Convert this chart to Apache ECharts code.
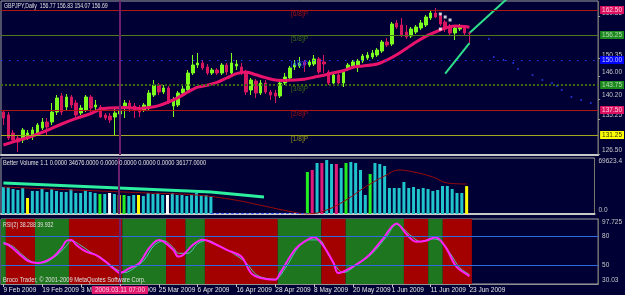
<!DOCTYPE html>
<html>
<head>
<meta charset="utf-8">
<script src="https://cdn.jsdelivr.net/npm/echarts@6/dist/echarts.min.js"></script>
<style>
  html, body { margin: 0; padding: 0; background: #000035; }
  #chart { width: 625px; height: 295px; }
</style>
</head>
<body>
<div id="chart"></div>
<script>
// slots on the time axis (97 daily bars + empty space on the right)
const SLOTS = 123;

const dateTicks = [
  [0, "9 Feb 2009"], [8, "19 Feb 2009"], [16, "3 Mar 2009"], [24, "13 Mar 2009"],
  [32, "25 Mar 2009"], [40, "6 Apr 2009"], [48, "16 Apr 2009"], [56, "28 Apr 2009"],
  [64, "8 May 2009"], [72, "20 May 2009"], [80, "1 Jun 2009"], [88, "11 Jun 2009"],
  [96, "23 Jun 2009"],
];

// [open, close, low, high]
const ohlc = [
  [137.0,135.5,133.75,137.5],[136.25,130.5,130.0,137.0],[131.75,130.0,129.25,132.5],[130.5,129.5,127.0,131.25],
  [130.0,132.5,129.25,133.0],[130.75,131.75,130.0,132.5],[131.25,132.5,130.0,133.25],[131.75,133.75,131.25,134.25],
  [133.0,134.5,132.5,135.5],[134.5,133.25,131.25,135.5],[134.5,137.0,133.75,139.25],[137.0,140.5,136.25,141.25],
  [141.0,137.0,136.25,141.75],[138.25,140.75,137.5,141.5],[140.75,138.75,138.0,141.25],[139.25,136.25,135.75,140.0],
  [136.75,138.0,136.25,138.75],[137.5,140.75,137.0,141.25],[140.75,138.0,136.75,141.25],[138.25,138.75,136.75,140.0],
  [138.25,135.75,135.5,138.75],[136.25,135.5,135.0,136.75],[136.0,135.0,134.25,136.75],[135.75,136.75,131.25,138.0],
  [136.5,137.5,136.0,138.75],[138.0,139.25,135.5,140.0],[139.25,138.0,137.0,140.0],[138.5,137.5,135.5,139.25],
  [138.0,137.0,135.75,138.75],[137.5,138.75,137.0,139.25],[138.25,141.75,137.5,142.5],[141.25,143.75,140.75,145.0],
  [143.75,142.0,141.25,144.25],[142.0,143.0,141.5,143.75],[143.0,139.5,139.0,143.5],[138.5,140.0,135.75,140.75],
  [138.75,141.75,138.25,142.25],[141.75,142.75,141.25,143.5],[142.5,146.75,142.0,147.5],[146.75,148.75,146.25,151.25],
  [148.75,149.25,148.0,151.75],[149.25,148.0,147.5,150.0],[148.25,146.75,146.25,149.0],[146.75,147.5,146.25,148.0],
  [147.5,146.75,146.25,148.0],[146.75,148.75,146.25,149.25],[148.75,147.0,146.25,149.25],[146.75,149.25,146.25,151.75],
  [148.5,149.0,147.5,150.0],[148.25,146.75,146.25,149.25],[147.0,142.0,141.25,147.5],[142.5,145.0,141.25,145.5],
  [144.75,141.75,140.5,145.25],[141.75,144.25,141.25,145.0],[144.25,142.0,141.5,145.0],[142.0,141.25,140.0,142.5],
  [141.75,141.0,139.25,142.5],[141.0,144.25,140.5,145.0],[144.25,145.75,143.75,146.75],[145.5,148.0,145.0,148.5],
  [148.25,149.0,147.5,150.0],[148.5,149.25,148.0,150.75],[149.5,148.75,147.0,150.0],[148.75,149.5,148.25,150.0],
  [149.0,150.25,148.5,151.25],[150.25,147.0,146.5,150.75],[149.5,149.0,146.75,151.25],[147.0,144.25,143.75,147.5],
  [144.25,146.25,143.75,146.75],[146.25,144.25,143.75,146.75],[144.25,147.0,143.25,147.5],[147.75,148.75,147.25,149.25],
  [148.5,149.5,148.0,150.0],[148.75,149.75,147.0,150.25],[149.75,151.0,149.25,151.5],[150.5,151.25,150.0,152.0],
  [150.75,151.75,150.25,152.5],[151.25,152.5,150.75,153.0],[152.25,154.5,151.75,155.0],[154.5,153.75,153.25,155.5],
  [154.0,159.0,153.5,159.5],[159.25,158.25,157.75,160.0],[158.75,156.25,155.75,160.5],[157.0,155.75,155.25,158.75],
  [156.0,157.75,155.5,158.25],[157.0,158.25,156.5,158.75],[158.0,159.25,157.5,160.0],[158.75,160.75,158.25,161.25],
  [160.5,161.75,160.0,162.5],[161.75,160.75,160.5,163.0],[161.0,159.0,158.5,161.5],[159.5,157.75,157.0,160.0],
  [158.5,156.75,156.25,159.0],[156.75,158.0,155.0,158.5],[157.75,158.5,157.25,159.0],[158.25,156.75,156.25,158.75],
  [156.77,156.69,154.07,156.83],
];

// moving average on price, [bar, value]
const maPoints = [
  [0,128.75],[3,129.9],[6,131.0],[9,132.4],[12,134.0],[15,135.4],[18,136.6],[20,137.7],[22,138.0],[25,138.1],
  [28,137.9],[30,138.1],[32,138.6],[34,139.5],[36,140.6],[38,142.0],[40,143.2],[42,143.7],[44,144.4],[46,145.5],
  [48,146.6],[50,147.0],[52,146.3],[54,145.6],[56,145.0],[58,144.9],[60,145.0],[62,145.2],[64,145.7],[66,146.2],
  [68,146.8],[70,147.3],[72,148.2],[74,148.5],[77,149.0],[79,150.0],[81,151.3],[83,152.9],[85,154.5],[87,155.9],
  [89,157.0],[91,158.0],[93,158.5],[95,158.4],[96,158.2],
];

// projection lines and forecast dots
const projUpper = [[96, 156.75], [104, 165.6]];
const projLower = [[91, 146.6], [96, 154.2]];
const forecastDots = [
  [100,155.25],[101,150.75],[103,150.0],[105,149.25],[106,147.75],[109,146.25],[111,145.0],
  [113,144.25],[114,143.5],[115,142.5],[117,140.75],[119,140.0],[121,139.25],
];
const fractalDots = [[90,161.5],[91,160.75],[92,160.0],[90,157.75]];

// Murrey-style levels
const levelValues = [162.5, 156.25, 150.0, 143.75, 137.5, 131.25];
const levelTags = ["[6/8]P", "[5/8]P", "[4/8]P", "[3/8]P", "[2/8]P", "[1/8]P"];
const priceTicks = [160.85, 150.35, 146.0, 140.2, 135.25, 126.5];

// Better Volume
const volume = [
  33560,33560,31080,29830,32320,19890,28590,28590,31080,27350,
  31080,28590,27350,27350,31080,26100,26100,29830,27350,26100,
  24860,24860,26100,24860,23620,23620,22370,23620,23620,22370,
  26100,24860,26100,23620,23620,26100,23620,23620,22370,23620,
  26100,23620,23620,22370,null,null,null,null,null,null,
  null,null,null,null,null,null,null,null,null,null,
  null,null,null,52210,54690,63390,63390,67120,62150,62150,
  57180,63390,64640,63390,54690,23620,49720,63390,62150,59660,
  32320,32320,32320,39780,32320,33560,31080,32320,31080,28590,
  29830,34800,34800,31080,26100,26100,34680,
];
// c=normal, y=low volume, g=climax up, w=churn, m=climax down
const volKind = "cccccyccccccccccccccgcwcygccycccccwcccccccccccccccccccccccccccmgmcmccmcgccccgcccccccccccccccccccyc";
const volAvg = [
  [0,33560],[10,31080],[20,28590],[30,26100],[40,23620],[48,17400],[54,9940],[60,2490],[63,0],
  [67,4970],[71,17400],[75,33560],[79,47230],[82,54690],[85,52210],[89,45990],[92,38530],[96,37290],
];
const volTrend = [[0,38530],[43,27350],[54,21130]];
const volZero = [[43,700],[63,700]];

// RSI(2) and its signal, [bar, value]
const rsiMain = [
  [0,72.4],[1,70.7],[3,62.4],[5,54.1],[7,51.8],[10,57.2],[12,67.6],[13,75.1],[14,75.9],[15,70.7],
  [17,63.8],[19,60.3],[21,53.4],[23,44.8],[24,41.4],[26,46.6],[28,51.8],[30,67.3],[32,75.9],[33,74.1],
  [35,65.5],[36,58.6],[37,60.3],[39,70.7],[41,76.0],[43,73.0],[46,65.5],[49,58.6],[51,41.4],[53,36.2],
  [56,34.5],[57,41.4],[60,65.5],[62,74.1],[64,78.7],[66,68.9],[68,51.8],[69,41.4],[72,48.2],[75,58.6],
  [78,75.9],[81,93.1],[83,82.0],[85,74.1],[87,75.1],[89,78.7],[91,68.9],[93,50.0],[94,44.8],[96,38.3],
];
const rsiSignal = [
  [0,73.5],[2,69],[4,60],[6,53],[8,52],[11,60],[13,70],[14,75],[16,70],[18,63],[20,58],[22,50],
  [24,43],[25,42],[27,47],[29,55],[31,70],[33,75],[35,68],[36,62],[38,62],[40,72],[42,75.5],[44,71],
  [47,63],[50,52],[52,40],[54,36],[56,35],[58,46],[61,70],[63,76],[65,76],[67,60],[69,45],[70,42],
  [73,51],[76,62],[79,80],[81,92],[84,80],[86,74],[88,77],[90,75],[92,62],[94,47],[96,39.9],
];
// [firstBar, lastBar, rising(1)/falling(0)]
const rsiBands = [
  [0,0,1],[1,6,0],[7,13,1],[14,24,0],[25,33,1],[34,37,0],[38,41,1],[42,56,0],
  [57,65,1],[66,70,0],[71,82,1],[83,87,0],[88,90,1],[91,96,0],
];
const rsiLevels = [80, 50];
const cursorBar = 24;

(function () {
  const el = document.getElementById("chart");
  const chart = echarts.init(el, null, { renderer: "canvas" });

  const FONT = "'Liberation Sans', Arial, sans-serif";
  const FS = 6.5;
  const BG = "#000035";
  const PRICE = [126.25, 164.75];
  const VOL = [0, 69623.4];
  const RSI = [30.03, 97.725];

  const categories = Array.from({ length: SLOTS }, (_, i) => {
    const t = dateTicks.find((d) => d[0] === i);
    return t ? t[1] : "";
  });

  const levelStyle = [
    { line: "#b01414", type: "solid", w: 1, tag: "#a01010", box: "#dc1060", txt: "#ffd0e0" },
    { line: "#4c7a1c", type: "solid", w: 1, tag: "#3c6a14", box: "#1c8a1c", txt: "#b8d8b8" },
    { line: "#2038ff", type: [1.5, 6.5], w: 1, tag: "#2038ff", box: "#0000ff", txt: "#c8c8ff" },
    { line: "#3a6a10", type: [2, 2], w: 2, tag: "#3a6a10", box: "#1c8a1c", txt: "#b8d8b8" },
    { line: "#b01414", type: "solid", w: 1, tag: "#a01010", box: "#dc1060", txt: "#ffd0e0" },
    { line: "#a8a820", type: "solid", w: 1, tag: "#909018", box: "#ffff00", txt: "#303000" },
  ];
  const volColors = { c: "#20c4cc", y: "#ffff00", g: "#22ee22", w: "#ffffff", m: "#e01c78" };
  const bandColors = ["#a30000", "#1e761e"];

  const grids = [
    { left: 1, width: 600, top: 1, height: 154 },
    { left: 1, width: 600, top: 158, height: 56 },
    { left: 1, width: 600, top: 219, height: 65 },
  ].map((g) => ({ ...g, show: true, borderColor: "#a0a0a0", borderWidth: 1, backgroundColor: "transparent" }));

  const xAxisBase = (gi) => ({
    type: "category",
    gridIndex: gi,
    data: categories,
    boundaryGap: true,
    axisTick: { show: false },
    axisLabel: { show: false },
    splitLine: { show: false },
  });

  const purpleLine = { xAxis: cursorBar, lineStyle: { color: "#6c1f6c", width: 2, type: "solid" }, label: { show: false } };

  const yLabel = { color: "#c8c8c8", fontSize: FS, fontFamily: FONT, margin: 4, align: "left" };

  const caption = (text, x, y, sx) => ({
    type: "text", x, y, scaleX: sx, z: 100,
    style: { text, fill: "#e0e0e0", font: "8px " + FONT, verticalAlign: "top" },
  });

  chart.setOption({
    animation: false,
    backgroundColor: BG,
    grid: grids,
    xAxis: [
      { ...xAxisBase(0), axisLine: { show: true, lineStyle: { color: "#c8c8c8", width: 2 } } },
      { ...xAxisBase(1), offset: 3, axisLine: { show: true, lineStyle: { color: "#c8c8c8", width: 2 } } },
      {
        ...xAxisBase(2),
        axisLine: { show: true, lineStyle: { color: "#909090", width: 1 } },
        axisTick: {
          show: true, length: 3, alignWithLabel: true,
          interval: (i, v) => v !== "", lineStyle: { color: "#c0c0c0" },
        },
        axisLabel: {
          show: true, interval: 0, align: "left", margin: 3,
          color: "#e6e6e6", fontSize: FS, fontFamily: FONT,
        },
      },
    ],
    yAxis: [
      {
        type: "value", gridIndex: 0, position: "right", min: PRICE[0], max: PRICE[1],
        splitLine: { show: false },
        axisLine: { show: true, lineStyle: { color: "#707060", type: "dotted" } },
        axisTick: { show: true, length: 2, customValues: priceTicks, lineStyle: { color: "#a0a0a0" } },
        axisLabel: { ...yLabel, customValues: priceTicks, verticalAlign: "bottom", formatter: (v) => v.toFixed(2) },
      },
      {
        type: "value", gridIndex: 1, position: "right", min: VOL[0], max: VOL[1],
        splitLine: { show: false },
        axisLine: { show: true, lineStyle: { color: "#707060", type: "dotted" } },
        axisTick: { show: false },
        axisLabel: {
          ...yLabel, customValues: VOL, formatter: (v) => v.toFixed(1),
          verticalAlignMinLabel: "bottom", verticalAlignMaxLabel: "top",
        },
      },
      {
        type: "value", gridIndex: 2, position: "right", min: RSI[0], max: RSI[1],
        splitLine: { show: false },
        axisLine: { show: true, lineStyle: { color: "#707060", type: "dotted" } },
        axisTick: { show: false },
        axisLabel: {
          ...yLabel, customValues: [RSI[0], ...rsiLevels, RSI[1]], formatter: (v) => String(v),
          verticalAlignMinLabel: "bottom", verticalAlignMaxLabel: "top",
        },
      },
    ],
    graphic: [
      caption("GBPJPY,Daily  156.77 156.83 154.07 156.69", 4, 2, 0.65),
      caption("Better Volume 1.1 0.0000 34676.0000 0.0000 0.0000 0.0000 0.0000 36177.0000", 3, 159, 0.71),
      caption("RSI(2) 38.288 39.932", 3, 221, 0.66),
      caption("Broco Trader, \u00a9 2001-2009 MetaQuotes Software Corp.", 3, 276, 0.72),
    ],
    series: [
      // price levels with their tags
      {
        type: "line", xAxisIndex: 0, yAxisIndex: 0, z: 1, symbol: "none",
        data: projUpper, lineStyle: { color: "#2ee08c", width: 2 },
        markLine: {
          silent: true, symbol: ["none", "none"],
          data: levelValues.map((v, k) => ({
            yAxis: v,
            lineStyle: { color: levelStyle[k].line, type: levelStyle[k].type, width: levelStyle[k].w },
            label: {
              show: true, position: "insideMiddleBottom", distance: 1, formatter: levelTags[k],
              color: levelStyle[k].tag, fontSize: FS, fontFamily: FONT,
            },
          })),
        },
      },
      // boxed level prices on the right
      {
        type: "line", xAxisIndex: 0, yAxisIndex: 0, z: 4, symbol: "none",
        data: projLower, lineStyle: { color: "#2ee08c", width: 2 },
        markLine: {
          silent: true, symbol: ["none", "none"],
          data: levelValues.map((v, k) => ({
            yAxis: v,
            lineStyle: { color: "rgba(0,0,0,0)", width: 1 },
            label: {
              show: true, position: "end", distance: 2, formatter: v.toFixed(2),
              color: levelStyle[k].txt, backgroundColor: levelStyle[k].box,
              padding: [1, 2, 0, 2], fontSize: FS, fontFamily: FONT,
            },
          })),
        },
      },
      {
        type: "candlestick", xAxisIndex: 0, yAxisIndex: 0, z: 2,
        barWidth: 3,
        data: ohlc,
        itemStyle: {
          color: "#7cff1e", color0: "#d6165e",
          borderColor: "#7cff1e", borderColor0: "#d6165e", borderWidth: 1,
        },
      },
      {
        type: "line", xAxisIndex: 0, yAxisIndex: 0, z: 3, symbol: "none", smooth: 0.3,
        data: maPoints, lineStyle: { color: "#e8146c", width: 3 },
        markLine: { silent: true, symbol: ["none", "none"], data: [purpleLine] },
      },
      {
        type: "scatter", xAxisIndex: 0, yAxisIndex: 0, z: 3,
        symbol: "circle", symbolSize: 2, data: forecastDots, itemStyle: { color: "#2a40ff" },
      },
      {
        type: "scatter", xAxisIndex: 0, yAxisIndex: 0, z: 5,
        symbol: "rect", symbolSize: 3, data: fractalDots, itemStyle: { color: "#ffffff" },
      },
      // volume
      {
        type: "bar", xAxisIndex: 1, yAxisIndex: 1, barWidth: 3,
        data: volume.map((v, i) => ({ value: v, itemStyle: { color: volColors[volKind[i]] } })),
        markLine: { silent: true, symbol: ["none", "none"], data: [purpleLine] },
      },
      {
        type: "line", xAxisIndex: 1, yAxisIndex: 1, symbol: "none",
        data: volTrend, lineStyle: { color: "#2cf0a0", width: 3 },
      },
      {
        type: "line", xAxisIndex: 1, yAxisIndex: 1, symbol: "none", smooth: 0.4,
        data: volAvg, lineStyle: { color: "#9a0a0a", width: 1 },
      },
      {
        type: "line", xAxisIndex: 1, yAxisIndex: 1, symbol: "none",
        data: volZero, lineStyle: { color: "#3050ff", width: 1, type: [3, 2] },
      },
      // RSI
      {
        type: "custom", xAxisIndex: 2, yAxisIndex: 2, z: 1,
        data: rsiBands,
        encode: { x: [0, 1] },
        renderItem: (params, api) => {
          const w = api.size([1, 0])[0];
          const p0 = api.coord([api.value(0), RSI[1]]);
          const p1 = api.coord([api.value(1), RSI[0]]);
          return {
            type: "rect",
            shape: { x: p0[0] - w / 2, y: p0[1], width: p1[0] - p0[0] + w, height: p1[1] - p0[1] },
            style: { fill: bandColors[api.value(2)] },
          };
        },
      },
      {
        type: "line", xAxisIndex: 2, yAxisIndex: 2, z: 3, symbol: "none", smooth: 0.35,
        data: rsiSignal, lineStyle: { color: "#4cc8b4", width: 1 },
      },
      {
        type: "line", xAxisIndex: 2, yAxisIndex: 2, z: 4, symbol: "none", smooth: 0.35,
        data: rsiMain, lineStyle: { color: "#ff22ff", width: 2 },
        markLine: {
          silent: true, symbol: ["none", "none"],
          data: [
            ...rsiLevels.map((v) => ({ yAxis: v, lineStyle: { color: "#2c6ce0", width: 1, type: "solid" }, label: { show: false } })),
            {
              ...purpleLine,
              label: {
                show: true, position: "start", distance: 2, formatter: "2009.03.11 07:00",
                color: "#ffc8dc", backgroundColor: "#e0186e", padding: [1, 3, 0, 3],
                fontSize: FS, fontFamily: FONT,
              },
            },
          ],
        },
      },
    ],
  });

  window.addEventListener("resize", () => chart.resize());
})();
</script>
</body>
</html>
